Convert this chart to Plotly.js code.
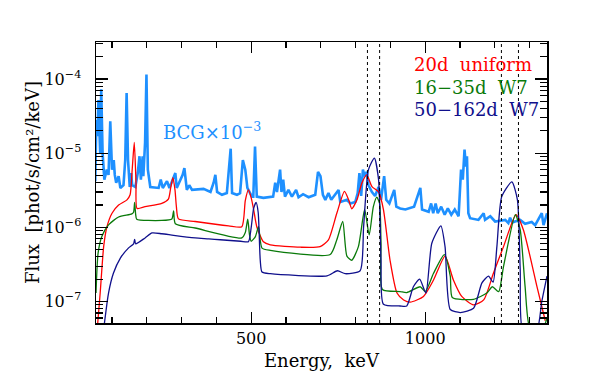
<!DOCTYPE html>
<html>
<head>
<meta charset="utf-8">
<script src="https://cdn.plot.ly/plotly-3.0.1.min.js"></script>
<style>
  html, body { margin: 0; padding: 0; background: #fff; }
  #chart { width: 595px; height: 386px; }
</style>
</head>
<body>
<div id="chart"></div>
<script>
// BCG spectrum (scaled by 1e-3)
var bcgEnergy = [52, 55, 58, 61, 66, 69, 73, 78, 85, 90, 95, 100, 105, 108, 112, 119, 124, 133, 138, 142, 146, 151, 155, 158, 167, 174, 179, 183, 188, 190, 195, 199, 203, 210, 234, 240, 246, 258, 265, 274, 282, 286, 292, 303, 308, 315, 322, 330, 363, 383, 392, 397, 402, 416, 430, 437, 441, 445, 459, 468, 473, 476, 483, 489, 502, 506, 511, 516, 535, 563, 569, 574, 583, 587, 592, 597, 607, 617, 629, 636, 649, 665, 684, 692, 699, 706, 713, 722, 730, 751, 756, 775, 785, 799, 806, 811, 816, 821, 826, 832, 837, 847, 856, 866, 873, 882, 888, 897, 911, 917, 928, 943, 968, 986, 991, 1010, 1017, 1023, 1030, 1036, 1046, 1056, 1065, 1075, 1085, 1096, 1103, 1108, 1113, 1117, 1120, 1124, 1129, 1153, 1168, 1172, 1187, 1201, 1230, 1239, 1244, 1250, 1258, 1273, 1287, 1306, 1316, 1335, 1340, 1350];
var bcgFlux = [4.2e-6, 2.8e-5, 1.7e-5, 5.2e-5, 1.0e-5, 7.3e-5, 1.0e-5, 4.4e-6, 6.0e-6, 5.1e-6, 2.7e-5, 6.0e-6, 8.1e-6, 5.1e-6, 4.0e-6, 4.9e-6, 3.4e-6, 3.7e-6, 8.1e-6, 6.5e-5, 8.1e-6, 3.5e-6, 5.4e-6, 3.7e-6, 3.5e-6, 5.4e-6, 9.1e-6, 4.4e-6, 9.1e-6, 4.9e-6, 1.38e-5, 1.15e-4, 6.0e-6, 3.5e-6, 3.4e-6, 4.4e-6, 3.4e-6, 4.2e-6, 3.4e-6, 4.4e-6, 5.4e-6, 3.4e-6, 4.0e-6, 5.1e-6, 6.3e-6, 3.2e-6, 3.7e-6, 3.2e-6, 3.3e-6, 3.0e-6, 4.0e-6, 5.1e-6, 3.0e-6, 2.75e-6, 2.9e-6, 8.1e-6, 1.15e-5, 2.9e-6, 2.75e-6, 2.9e-6, 6.0e-6, 8.1e-6, 6.0e-6, 3.4e-6, 2.6e-6, 2.6e-6, 1.23e-5, 2.6e-6, 2.5e-6, 2.6e-6, 4.0e-6, 3.0e-6, 6.0e-6, 3.0e-6, 4.4e-6, 2.6e-6, 3.2e-6, 2.6e-6, 3.2e-6, 2.55e-6, 2.8e-6, 2.55e-6, 2.75e-6, 5.6e-6, 4.9e-6, 2.75e-6, 2.35e-6, 2.9e-6, 2.35e-6, 3.2e-6, 2.2e-6, 2.35e-6, 2.1e-6, 2.2e-6, 2.9e-6, 5.4e-6, 2.65e-6, 6.0e-6, 4.9e-6, 5.6e-6, 3.7e-6, 3.0e-6, 2.65e-6, 3.5e-6, 2.35e-6, 4.9e-6, 2.35e-6, 2.1e-6, 3.2e-6, 1.9e-6, 1.8e-6, 1.74e-6, 1.9e-6, 3.4e-6, 1.74e-6, 1.62e-6, 2.1e-6, 1.55e-6, 2.1e-6, 1.55e-6, 1.9e-6, 1.48e-6, 1.8e-6, 1.48e-6, 1.74e-6, 1.41e-6, 6.0e-6, 4.4e-6, 1.12e-5, 6.6e-6, 9.1e-6, 1.55e-6, 1.33e-6, 1.26e-6, 1.55e-6, 1.26e-6, 1.41e-6, 1.2e-6, 1.26e-6, 1.14e-6, 1.35e-6, 1.16e-6, 1.2e-6, 1.26e-6, 1.12e-6, 1.18e-6, 1.07e-6, 1.55e-6, 1.07e-6, 1.55e-6];

// 20d uniform model
var redEnergy = [58, 66, 76, 85, 100, 119, 143, 152, 158, 164, 169, 172, 195, 243, 262, 269, 275, 281, 285, 291, 339, 435, 473, 483, 492, 500, 507, 516, 535, 555, 641, 698, 722, 746, 768, 780, 789, 804, 818, 832, 847, 866, 880, 899, 919, 938, 957, 995, 1024, 1057, 1081, 1105, 1139, 1168, 1196, 1225, 1261, 1282, 1321, 1345];
var redFlux = [4.5e-8, 1.3e-7, 5.5e-7, 1.0e-6, 1.55e-6, 2.0e-6, 2.35e-6, 2.75e-6, 6e-6, 1.4e-5, 4e-6, 1.8e-6, 1.9e-6, 2.1e-6, 2.4e-6, 3.5e-6, 4.7e-6, 3.2e-6, 1.9e-6, 1.3e-6, 1.2e-6, 1.05e-6, 1.02e-6, 2.3e-6, 3.2e-6, 2.5e-6, 1.74e-6, 1.02e-6, 6.4e-7, 5.8e-7, 5.4e-7, 5.5e-7, 6.8e-7, 1.55e-6, 3.05e-6, 2.35e-6, 1.78e-6, 2.35e-6, 3.95e-6, 5.1e-6, 3.55e-6, 3.0e-6, 1.74e-6, 3.6e-7, 1.3e-7, 1.05e-7, 9.8e-8, 1.17e-7, 1.95e-7, 4.1e-7, 1.95e-7, 1.17e-7, 9.0e-8, 1.05e-7, 2.4e-7, 5.5e-7, 1.48e-6, 9.3e-7, 1.6e-7, 5.5e-8];

// 16-35d W7 model
var greenEnergy = [54, 60, 71, 90, 119, 157, 162, 165, 168, 171, 243, 272, 277, 282, 339, 473, 483, 490, 495, 500, 512, 521, 531, 555, 727, 746, 763, 775, 789, 808, 826, 839, 851, 861, 869, 873, 877, 928, 947, 986, 1000, 1024, 1055, 1072, 1078, 1139, 1177, 1193, 1211, 1225, 1259, 1273, 1287, 1300, 1330, 1350];
var greenFlux = [1.3e-7, 4.5e-7, 7.6e-7, 1.08e-6, 1.38e-6, 1.52e-6, 1.6e-6, 2.17e-6, 1.5e-6, 1.29e-6, 1.24e-6, 1.3e-6, 1.67e-6, 1.12e-6, 9.8e-7, 7.2e-7, 8.5e-7, 1.29e-6, 8e-7, 6.5e-7, 7.5e-7, 1.02e-6, 5.25e-7, 4.9e-7, 4.3e-7, 6.8e-7, 1.2e-6, 4.1e-7, 3.6e-7, 5.5e-7, 1.74e-6, 7.9e-7, 1.9e-6, 2.55e-6, 2.1e-6, 6e-7, 1.45e-7, 1.36e-7, 1.32e-7, 1.58e-7, 1.36e-7, 2.4e-7, 4.3e-7, 2.2e-7, 1.13e-7, 1.07e-7, 1.3e-7, 1.58e-7, 1.36e-7, 2.95e-7, 1.48e-6, 9.3e-7, 1.6e-7, 4.5e-8, 3.5e-8, 6e-8];

// 50-162d W7 model
var navyEnergy = [78, 90, 104, 124, 147, 162, 165, 168, 195, 215, 243, 277, 339, 378, 411, 470, 492, 500, 507, 514, 520, 526, 531, 555, 718, 748, 770, 813, 823, 837, 854, 866, 873, 880, 928, 947, 966, 984, 1002, 1019, 1045, 1057, 1072, 1101, 1139, 1163, 1182, 1195, 1206, 1220, 1249, 1265, 1273, 1281, 1320, 1335, 1350];
var navyFlux = [5e-8, 1.3e-7, 2.4e-7, 3.85e-7, 5.25e-7, 6.0e-7, 6.9e-7, 6.0e-7, 7.2e-7, 8.4e-7, 8.2e-7, 7.8e-7, 7.2e-7, 7.0e-7, 6.8e-7, 6.5e-7, 6.4e-7, 1.0e-6, 1.8e-6, 2.17e-6, 1.6e-6, 3.6e-7, 2.5e-7, 2.37e-7, 2.22e-7, 2.6e-7, 2.37e-7, 2.6e-7, 1.02e-6, 6.0e-6, 8.6e-6, 4.4e-6, 3.6e-7, 9.2e-8, 8.7e-8, 8.7e-8, 1.58e-7, 2.0e-7, 1.3e-7, 6.1e-7, 1.05e-6, 5.5e-7, 7.8e-8, 7.1e-8, 8.1e-8, 1.78e-7, 2.2e-7, 1.82e-7, 5.5e-7, 2.6e-6, 4.1e-6, 2.35e-6, 2.7e-7, 4e-8, 4e-8, 1e-7, 2.2e-7];

// dotted vertical markers (keV)
var markerLines = [834, 869, 1219, 1268];

var yTickVals = [1e-7, 1e-6, 1e-5, 1e-4];
var yTickText = ["10<sup>\u22127</sup>", "10<sup>\u22126</sup>", "10<sup>\u22125</sup>", "10<sup>\u22124</sup>"];

var minorY = [];
for (var p = -8; p <= -4; p++) {
  for (var m = 2; m <= 9; m++) minorY.push(m * Math.pow(10, p));
}

var serif = "DejaVu Serif, serif";

var data = [
  { x: bcgEnergy, y: bcgFlux, type: "scatter", mode: "lines", line: { color: "#1e90ff", width: 2.6 }, hoverinfo: "skip" },
  { x: redEnergy, y: redFlux, type: "scatter", mode: "lines", line: { color: "#ff0000", width: 1.3, shape: "spline", smoothing: 0.6 } },
  { x: greenEnergy, y: greenFlux, type: "scatter", mode: "lines", line: { color: "#0a7a0a", width: 1.3, shape: "spline", smoothing: 0.6 } },
  { x: navyEnergy, y: navyFlux, type: "scatter", mode: "lines", line: { color: "#10108c", width: 1.3, shape: "spline", smoothing: 0.6 } }
];

var shapes = markerLines.map(function (e) {
  return { type: "line", xref: "x", yref: "paper", x0: e, x1: e, y0: 0, y1: 1,
           line: { color: "#000", width: 1, dash: "dot" } };
});

var layout = {
  width: 595, height: 386,
  margin: { l: 96, r: 48, t: 42, b: 63 },
  paper_bgcolor: "#fff", plot_bgcolor: "#fff",
  showlegend: false,
  font: { family: serif, size: 16, color: "#000" },
  xaxis: {
    range: [54, 1350],
    tick0: 0, dtick: 500,
    ticks: "inside", ticklen: 11, tickwidth: 1.3, tickcolor: "#000",
    minor: { dtick: 100, ticks: "inside", ticklen: 6, tickwidth: 1.1, tickcolor: "#000" },
    showline: true, linecolor: "#000", linewidth: 1.5, mirror: "allticks",
    showgrid: false, zeroline: false,
    ticklabelstandoff: 0,
    tickfont: { family: serif, size: 16 },
    title: { text: "Energy,  keV", font: { family: serif, size: 18 }, standoff: 7 }
  },
  yaxis: {
    type: "log",
    range: [-7.29, -3.5],
    tickmode: "array", tickvals: yTickVals, ticktext: yTickText,
    ticks: "inside", ticklen: 12, tickwidth: 1.3, tickcolor: "#000",
    minor: { tickmode: "array", tickvals: minorY, ticks: "inside", ticklen: 7, tickwidth: 1.1, tickcolor: "#000" },
    showline: true, linecolor: "#000", linewidth: 1.5, mirror: "allticks",
    showgrid: false, zeroline: false,
    ticklabelstandoff: 10,
    tickfont: { family: serif, size: 16 },
    title: { text: "Flux  [phot/s/cm\u00b2/keV]", font: { family: serif, size: 18 }, standoff: 0 }
  },
  shapes: shapes,
  annotations: [
    { xref: "paper", yref: "paper", x: 0.257, y: 0.684, xanchor: "center", yanchor: "middle",
      text: "BCG\u00d710<sup>\u22123</sup>", showarrow: false, font: { family: serif, size: 18, color: "#1e90ff" } },
    { xref: "paper", yref: "paper", x: 0.70, y: 0.919, xanchor: "left", yanchor: "middle",
      text: "20d  uniform", showarrow: false, font: { family: serif, size: 18, color: "#ff0000" } },
    { xref: "paper", yref: "paper", x: 0.70, y: 0.838, xanchor: "left", yanchor: "middle",
      text: "16\u221235d  W7", showarrow: false, font: { family: serif, size: 18, color: "#0a7a0a" } },
    { xref: "paper", yref: "paper", x: 0.70, y: 0.759, xanchor: "left", yanchor: "middle",
      text: "50\u2212162d  W7", showarrow: false, font: { family: serif, size: 18, color: "#10108c" } }
  ]
};

Plotly.newPlot("chart", data, layout, { displayModeBar: false, staticPlot: true });
</script>
</body>
</html>
